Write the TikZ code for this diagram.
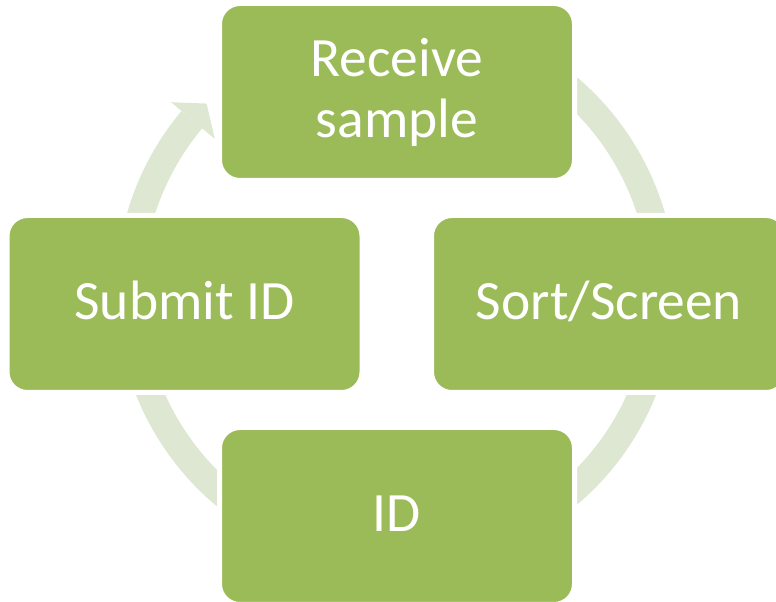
\documentclass[tikz,border=0pt]{standalone}
\usepackage{fontspec}
\setmainfont{Carlito}
\usetikzlibrary{calc}
\definecolor{boxgreen}{HTML}{9BBB59}
\definecolor{ringgreen}{HTML}{DEE7D1}
\tikzset{
  stage/.style={fill=boxgreen,draw=white,line width=5pt,rounded corners=20.5pt,
    minimum width=355pt,minimum height=177pt,inner sep=0pt,text=white,
    align=center,font=\fontsize{55.5}{61}\selectfont},
  oneline/.style={text height=31pt,text depth=0pt},
  ring/.style={draw=ringgreen,line width=27pt}
}

\begin{document}
\begin{tikzpicture}[x=1pt,y=1pt]
\useasboundingbox (0,0) rectangle (776,602);
\coordinate (c) at (396,311);

% cycle ring, left open between 120 and 140 degrees
\draw[ring] ($(c)+(120:266.5)$) arc[start angle=120,end angle=-220,radius=266.5];
% head pointing into the top stage
\fill[ringgreen] ($(c)+(140:293.7)$) -- ($(c)+(135.3:266.5)$) --
  ($(c)+(140:236.6)$) -- cycle;

\node[stage] (receive) at (397,510) {Receive\\sample};
\node[stage,oneline] (sort) at (609,298) {Sort/Screen};
\node[stage,oneline] (id) at (397,86) {ID};
\node[stage,oneline] (submit) at (184.5,298) {Submit ID};
\end{tikzpicture}
\end{document}
